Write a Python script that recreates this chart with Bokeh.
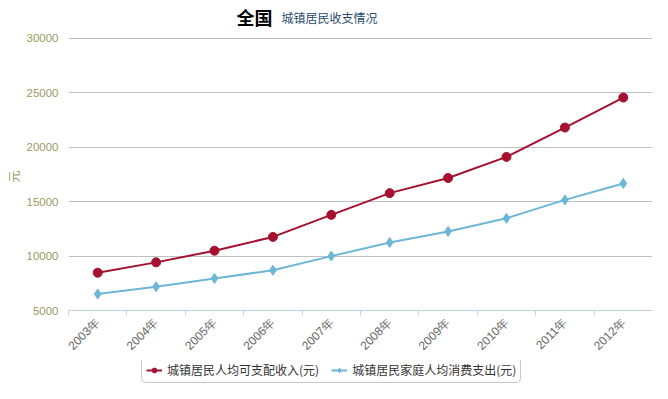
import math
from bokeh.plotting import figure
from bokeh.layouts import column
from bokeh.models import (FixedTicker, Label, Legend, LegendItem, Range1d,
                          ColumnDataSource, Title)
from bokeh.embed import file_html
from bokeh.resources import INLINE

# ---- data ----
years = ["2003年", "2004年", "2005年", "2006年", "2007年",
         "2008年", "2009年", "2010年", "2011年", "2012年"]
income = [8472, 9422, 10493, 11759, 13786, 15781, 17175, 19109, 21810, 24565]
expense = [6511, 7182, 7943, 8697, 9997, 11243, 12265, 13471, 15161, 16674]
y_ticks = [5000, 10000, 15000, 20000, 25000, 30000]
series_names = ["城镇居民人均可支配收入(元)", "城镇居民家庭人均消费支出(元)"]
title_main = "全国"
title_sub = "城镇居民收支情况"
y_unit = "元"

RED = "#A5112F"
BLUE = "#6CB6D8"
OLIVE = "#9A9A62"

xs = [i + 0.5 for i in range(len(years))]
src = ColumnDataSource(dict(x=xs, income=income, expense=expense))

# main chart: frame spans from canvas top to the x axis; top strip holds the title
p = figure(width=652, height=360, output_backend="svg", toolbar_location=None,
           x_range=Range1d(0, len(years)), y_range=Range1d(5000, 33480),
           min_border_left=67, min_border_right=0, min_border_top=0,
           min_border_bottom=46)
p.outline_line_color = None
p.background_fill_color = "white"
p.border_fill_color = "white"

# x axis: labels at category centres, ticks at boundaries
p.xaxis.ticker = FixedTicker(ticks=xs, minor_ticks=list(range(len(years) + 1)))
p.xaxis.major_label_overrides = {x: y for x, y in zip(xs, years)}
p.xaxis.major_label_orientation = math.pi / 4
p.xaxis.major_tick_line_color = None
p.xaxis.major_tick_out = 0
p.xaxis.major_tick_in = 0
p.xaxis.minor_tick_line_color = "#C0D0E0"
p.xaxis.minor_tick_out = 5
p.xaxis.minor_tick_in = 0
p.xaxis.axis_line_color = "#C0D0E0"
p.xaxis.major_label_text_color = "#666666"
p.xaxis.major_label_text_font = "Liberation Sans"
p.xaxis.major_label_text_font_size = "12px"
p.xaxis.major_label_standoff = 5
p.xgrid.grid_line_color = None

# y axis
p.yaxis.ticker = FixedTicker(ticks=y_ticks)
p.yaxis.axis_line_color = None
p.yaxis.major_tick_line_color = None
p.yaxis.minor_tick_line_color = None
p.yaxis.major_tick_out = 0
p.yaxis.major_tick_in = 0
p.yaxis.major_label_standoff = 10
p.yaxis.major_label_text_color = OLIVE
p.yaxis.major_label_text_font = "Liberation Sans"
p.yaxis.major_label_text_font_size = "11.5px"
p.ygrid.grid_line_color = "#C0C0C0"
p.ygrid.ticker = FixedTicker(ticks=y_ticks)

ylab = Title(text=y_unit, text_color=OLIVE, text_font="Noto Sans CJK SC",
             text_font_style="normal", text_font_size="12px", align="left",
             offset=128, standoff=4)
p.add_layout(ylab, "left")

# series
p.line("x", "income", source=src, line_color=RED, line_width=2)
p.scatter("x", "income", source=src, marker="circle", size=9,
          fill_color=RED, line_color=RED)
p.line("x", "expense", source=src, line_color=BLUE, line_width=2)
p.scatter("x", "expense", source=src, marker="diamond", size=10,
          fill_color=BLUE, line_color=BLUE)

# titles (inside the frame's top strip)
p.add_layout(Label(x=168, y=294, x_units="screen", y_units="screen",
                   text=title_main, text_font="Noto Sans CJK SC",
                   text_font_style="bold", text_font_size="18px",
                   text_color="black", text_baseline="middle"))
p.add_layout(Label(x=213, y=293, x_units="screen", y_units="screen",
                   text=title_sub, text_font="Noto Sans CJK SC",
                   text_font_size="12px", text_color="#274B6D",
                   text_baseline="middle"))

# legend strip: a small figure whose (out-of-view) series only feed the legend
q = figure(width=652, height=23, output_backend="svg", toolbar_location=None,
           x_range=Range1d(0, 1), y_range=Range1d(0, 1),
           x_axis_type=None, y_axis_type=None,
           min_border_left=0, min_border_right=0, min_border_top=0,
           min_border_bottom=0)
q.outline_line_color = None
q.grid.grid_line_color = None
ql1 = q.line("x", "income", source=src, line_color=RED, line_width=2)
qm1 = q.scatter("x", "income", source=src, marker="circle", size=9,
                fill_color=RED, line_color=RED)
ql2 = q.line("x", "expense", source=src, line_color=BLUE, line_width=2)
qm2 = q.scatter("x", "expense", source=src, marker="diamond", size=10,
                fill_color=BLUE, line_color=BLUE)

legend = Legend(items=[LegendItem(label=series_names[0], renderers=[ql1, qm1]),
                       LegendItem(label=series_names[1], renderers=[ql2, qm2])],
                orientation="horizontal", location=(73, 0),
                label_text_font="Noto Sans CJK SC", label_text_font_size="12px",
                label_text_color="#333333", glyph_width=16, glyph_height=12,
                label_standoff=5, spacing=12, padding=4, margin=0,
                label_height=14,
                border_line_color="#909090", border_line_width=1,
                background_fill_color="white", background_fill_alpha=1)
if "border_radius" in Legend.properties():
    legend.border_radius = 5
q.add_layout(legend, "center")

layout = column(p, q, spacing=0)
open("out.html", "w").write(file_html(layout, INLINE))
